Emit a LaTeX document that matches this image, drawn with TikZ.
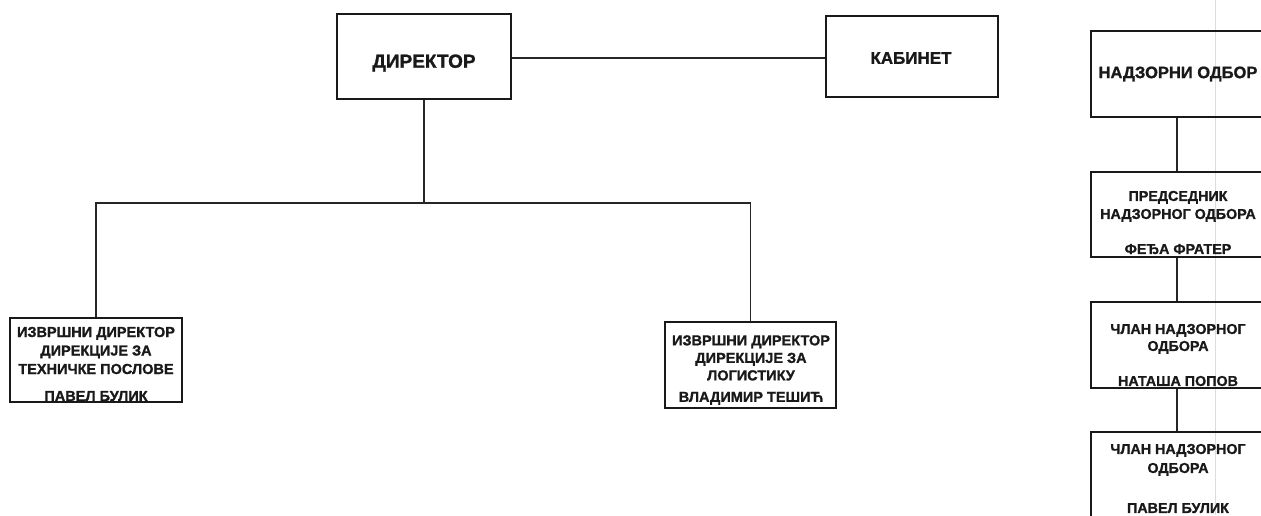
\documentclass[tikz,border=0pt]{standalone}
\usepackage{fontspec}
\setmainfont[BoldFeatures={FakeBold=1.2}]{Liberation Sans}
\begin{document}
\begin{tikzpicture}[x=1pt,y=-1pt,
  box/.style={draw=black!90,line width=1.5pt,inner sep=0pt,minimum width=#1},
  txt/.style={align=center,inner sep=0pt,font=\bfseries\fontsize{14.3}{18}\selectfont,text=black!90},
  ln/.style={draw=black!85,line width=1.3pt}]
\useasboundingbox (0,0) rectangle (1261,515);
\clip (0,0) rectangle (1261,515);
\fill[white] (0,0) rectangle (1261,515);
% faint scan line
\draw[red!25!gray!25,line width=1pt] (1215,0) -- (1215,515);
% top boxes
\node[box=174pt,minimum height=85pt] (dir) at (424,56.5) {};
\node[txt,font=\bfseries\fontsize{19}{22}\selectfont] (dirt) at (424,63) {ДИРЕКТОР};
\node[box=172pt,minimum height=81pt] (kab) at (912,56.5) {};
\node[txt,font=\bfseries\fontsize{17}{20}\selectfont] (kabt) at (911,58) {КАБИНЕТ};
\draw[ln] (dir.east |- 0,58) -- (kab.west |- 0,58);
% executive boxes
\node[box=172pt,minimum height=84pt] (left) at (96,360) {};
\node[txt,font=\bfseries\fontsize{14.5}{18.5}\selectfont] (leftt) at (96,364)
  {ИЗВРШНИ ДИРЕКТОР\\ДИРЕКЦИЈЕ ЗА\\ТЕХНИЧКЕ ПОСЛОВЕ\\[8.5pt]ПАВЕЛ БУЛИК};
\node[box=171pt,minimum height=86pt] (right) at (750.5,365) {};
\node[txt,font=\bfseries\fontsize{14.5}{17.5}\selectfont] (rightt) at (751,370)
  {ИЗВРШНИ ДИРЕКТОР\\ДИРЕКЦИЈЕ ЗА\\ЛОГИСТИКУ\\[4pt]ВЛАДИМИР ТЕШИЋ};
\coordinate (j) at (424,203);
\draw[ln] (dir.south) -- (j);
\draw[ln] (left.north) |- (j) -| (right.north);
% supervisory board column
\node[box=174pt,minimum height=86pt] (nad) at (1178,74) {};
\node[txt,font=\bfseries\fontsize{16.5}{20}\selectfont] (nadt) at (1178,74) {НАДЗОРНИ ОДБОР};
\node[box=174pt,minimum height=85pt] (pred) at (1178,214.5) {};
\node[txt] (predt) at (1178,222.5) {ПРЕДСЕДНИК\\НАДЗОРНОГ ОДБОРА\\[17pt]ФЕЂА ФРАТЕР};
\node[box=174pt,minimum height=86pt] (cl1) at (1178,345) {};
\node[txt,font=\bfseries\fontsize{14.3}{17}\selectfont] (cl1t) at (1178,355) {ЧЛАН НАДЗОРНОГ\\ОДБОРА\\[18pt]НАТАША ПОПОВ};
\node[box=174pt,minimum height=86pt] (cl2) at (1178,475) {};
\node[txt,font=\bfseries\fontsize{14.3}{19}\selectfont] (cl2t) at (1178,478.5) {ЧЛАН НАДЗОРНОГ\\ОДБОРА\\[21pt]ПАВЕЛ БУЛИК};
\draw[ln] (nad.south -| 1177,0) -- (pred.north -| 1177,0);
\draw[ln] (pred.south -| 1177,0) -- (cl1.north -| 1177,0);
\draw[ln] (cl1.south -| 1177,0) -- (cl2.north -| 1177,0);
\end{tikzpicture}
\end{document}
